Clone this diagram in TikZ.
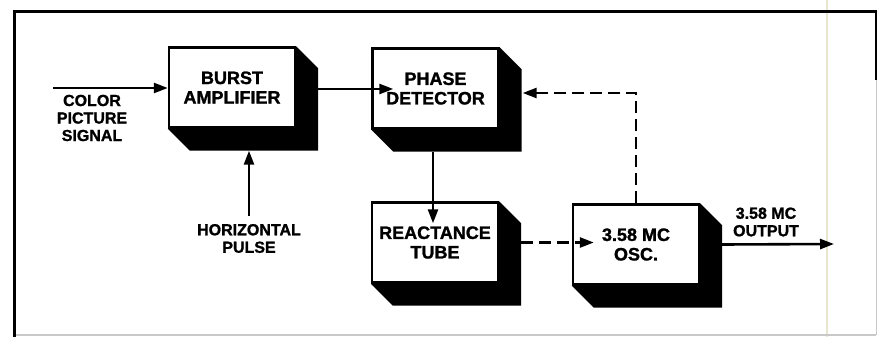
\documentclass[tikz,border=0pt]{standalone}
\usepackage{fontspec}
\setmainfont{Liberation Sans}[BoldFeatures={FakeBold=1.3}]
\usetikzlibrary{arrows.meta,calc}

\definecolor{gutter}{HTML}{E9E6CF}
\definecolor{fadeline}{HTML}{C8C8C8}

\tikzset{
  block/.style={draw=black, line width=2.4pt, fill=white, minimum width=126pt,
    minimum height=80pt, inner sep=0pt, align=center,
    font=\fontsize{18}{19.5}\selectfont\bfseries},
  lbl/.style={align=center, inner sep=0pt,
    font=\fontsize{16}{17.5}\selectfont\bfseries},
  sig/.style={line width=2.6pt, -{Triangle[length=14pt,width=10pt]}},
  fb/.style={sig, dash pattern=on 12pt off 6pt},
}

% solid black extrusion below and to the right of a block
\newcommand{\extrude}[1]{%
  \fill[black] (#1.north east) -- ++(22,22) -- ($(#1.south east)+(22,22)$)
    -- ($(#1.south west)+(22,22)$) -- (#1.south west) -- (#1.south east) -- cycle;}

\begin{document}
\begin{tikzpicture}[x=1pt, y=-1pt]
  \useasboundingbox (0,0) rectangle (877,337);

  % page frame and gutter line
  \draw[gutter, line width=1.5pt] (827,0) -- (827,337);
  \draw[fadeline, line width=1.2pt] (14,335) -- (876,335);
  \draw[fadeline, line width=1pt] (876,80) -- (876,335);
  \draw[black, line width=3pt] (14,337) -- (14,12) -- (876,12) -- (876,80);

  % blocks
  \node[block] (burst) at (232,87.5) {BURST\\AMPLIFIER};
  \extrude{burst}
  \node[block] (phase) at (435.5,88.5) {PHASE\\DETECTOR};
  \extrude{phase}
  \node[block] (react) at (435,242.5) {REACTANCE\\TUBE};
  \extrude{react}
  \node[block] (osc) at (636,244.5) {3.58 MC\\OSC.};
  \extrude{osc}

  % labels
  \node[lbl] (inlbl) at (92,118) {COLOR\\PICTURE\\SIGNAL};
  \node[lbl] (hlbl) at (249,238.5) {HORIZONTAL\\PULSE};
  \node[lbl] (outlbl) at (766,222) {3.58 MC\\OUTPUT};

  \coordinate (src) at (53,88);
  \coordinate (sink) at (834,244);

  % signal paths
  \draw[sig] (src) -- (src -| burst.west);
  \draw[sig] ([xshift=22pt,yshift=-1.5pt]burst.east) -- ([xshift=22pt,yshift=-1.5pt]burst.east -| phase.west);
  \draw[sig] (hlbl.north -| 249,0) ++(0,-8) -- ([yshift=-22pt]burst.south -| 249,0);
  \draw[sig] ([xshift=-2.5pt,yshift=-22pt]phase.south) -- ([xshift=-2.5pt,yshift=-22pt]phase.south |- react.north);
  \draw[fb] ([xshift=22pt]react.east) -- ([xshift=22pt]react.east -| osc.west);
  \draw[fb] (osc.north) |- ([xshift=23pt,yshift=-4.5pt]phase.east);
  \draw[sig] ([xshift=22pt]osc.east) -- (sink);
\end{tikzpicture}
\end{document}
